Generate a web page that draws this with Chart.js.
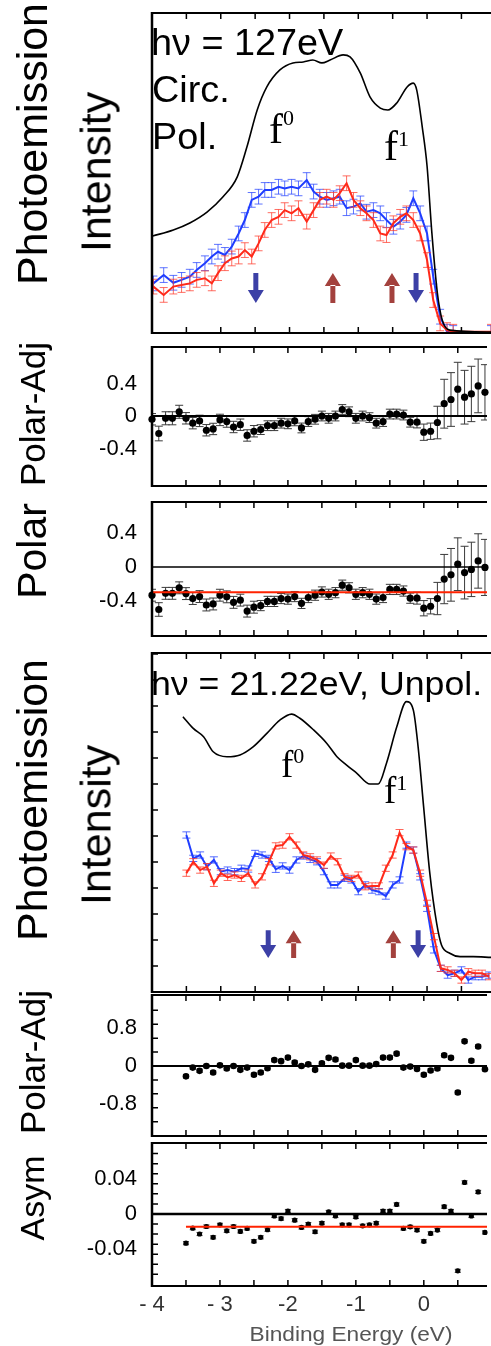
<!DOCTYPE html>
<html>
<head>
<meta charset="utf-8">
<script src="https://cdn.jsdelivr.net/npm/chart.js@4.4.1/dist/chart.umd.min.js"></script>
<style>
body { margin: 0; background: #fff; }
#wrap { position: relative; width: 491px; height: 1346px; overflow: hidden; background: #fff; font-family: 'Liberation Sans', Arial, sans-serif; }
canvas { position: absolute; left: 0; }
.lbl { position: absolute; white-space: nowrap; line-height: 1; color: #000; }
.wide { transform: scaleX(1.05); transform-origin: left top; }
.rot { transform: translate(-50%, -50%) rotate(-90deg); }
.f { font-family: 'Liberation Serif', 'Times New Roman', serif; }
.f span { position: relative; }
</style>
</head>
<body>
<div id="wrap">
  <canvas id="c1"></canvas>
  <canvas id="c2"></canvas>
  <canvas id="c3"></canvas>
  <canvas id="c4"></canvas>
  <canvas id="c5"></canvas>
  <canvas id="c6"></canvas>

  <div class="lbl rot" style="left:32px;top:144px;font-size:43px">Photoemission</div>
  <div class="lbl rot" style="left:96px;top:172px;font-size:43px">Intensity</div>
  <div class="lbl rot" style="left:32px;top:414px;font-size:35px">Polar-Adj</div>
  <div class="lbl rot" style="left:32px;top:551px;font-size:41px">Polar</div>
  <div class="lbl rot" style="left:32px;top:800px;font-size:43px">Photoemission</div>
  <div class="lbl rot" style="left:96px;top:825px;font-size:43px">Intensity</div>
  <div class="lbl rot" style="left:32px;top:1062px;font-size:35px">Polar-Adj</div>
  <div class="lbl rot" style="left:32px;top:1198px;font-size:34px">Asym</div>

  <div class="lbl wide" style="left:151px;top:25px;font-size:36px">hν = 127eV</div>
  <div class="lbl wide" style="left:152px;top:72px;font-size:36px">Circ.</div>
  <div class="lbl wide" style="left:152px;top:119px;font-size:36px">Pol.</div>
  <div class="lbl f" style="left:269px;top:108px;font-size:42px">f<span style="font-size:22px;top:-18px">0</span></div>
  <div class="lbl f" style="left:384px;top:125px;font-size:42px">f<span style="font-size:22px;top:-14px">1</span></div>

  <div class="lbl wide" style="left:151px;top:666px;font-size:34px">hν = 21.22eV, Unpol.</div>
  <div class="lbl f" style="left:281px;top:746px;font-size:37px">f<span style="font-size:22px;top:-14px">0</span></div>
  <div class="lbl f" style="left:384px;top:772px;font-size:37px">f<span style="font-size:22px;top:-13px">1</span></div>

  <div class="lbl" style="left:351px;top:1323px;font-size:21px;color:#555;transform:translateX(-50%) scaleX(1.08)">Binding Energy (eV)</div>
</div>

<script>
// ---- data: panel 1 (hv = 127 eV, circular polarisation) ----
const circBlackX = [-3.99, -3.69, -3.45, -3.20, -2.97, -2.76, -2.62, -2.47, -2.33, -2.14, -1.95, -1.80, -1.66, -1.53, -1.41, -1.22,
  -1.12, -0.97, -0.83, -0.68, -0.57, -0.44, -0.29, -0.20, -0.15, -0.07, 0.00, 0.07, 0.15, 0.22, 0.33, 0.93];
const circBlackY = [30.3, 32.2, 34.4, 37.8, 42.5, 48.8, 58.1, 69.7, 76.9, 82.2, 84.4, 84.7, 85.3, 84.4, 85.3, 86.9,
  86.3, 81.2, 73.8, 70.3, 69.7, 71.9, 76.9, 78.1, 75.9, 64.4, 52.2, 31.3, 12.5, 4.1, 0.9, 0.3];
const circX = [-3.98, -3.83, -3.69, -3.57, -3.45, -3.35, -3.23, -3.13, -3.04, -2.94, -2.84, -2.74, -2.65, -2.55, -2.45,
  -2.36, -2.26, -2.16, -2.07, -1.97, -1.87, -1.75, -1.65, -1.56, -1.46, -1.36, -1.27, -1.17, -1.07, -0.97,
  -0.88, -0.78, -0.68, -0.59, -0.49, -0.39, -0.30, -0.20, -0.10, 0.00, 0.09, 0.19, 0.29, 0.38, 0.93];
const circRed = [14.5, 11.9, 14.5, 15.0, 15.5, 16.6, 17.1, 15.5, 18.7, 21.8, 23.3, 23.9, 25.9, 23.9, 28.0,
  32.2, 35.3, 36.3, 38.4, 37.4, 39.0, 34.8, 38.4, 41.6, 42.6, 41.6, 43.7, 46.8, 41.6, 39.0,
  37.4, 35.3, 31.1, 30.6, 34.3, 36.3, 37.4, 35.3, 31.1, 22.8, 10.3, 3.0, 0.9, 0.4, 0.4];
const circBlue = [15.5, 18.1, 15.7, 16.6, 17.6, 19.7, 21.8, 23.9, 25.4, 24.4, 27.0, 31.1, 35.3, 41.6, 42.6,
  44.7, 44.7, 45.7, 45.2, 45.7, 45.2, 47.8, 44.2, 42.6, 41.6, 42.1, 42.6, 39.0, 39.5, 40.5,
  37.9, 38.4, 37.4, 35.3, 33.2, 34.8, 36.9, 42.1, 37.4, 31.1, 17.6, 5.1, 0.4, 0.0, 0.0];
const circErr = 2.3;
const circDownArrows = [-2.49, -0.16];
const circUpArrows = [-1.37, -0.51];

// ---- data: panels 2 and 3 ----
const gridHi = [-4.0, -3.9, -3.8, -3.7, -3.6, -3.5, -3.4, -3.3, -3.2, -3.1, -3.0, -2.9, -2.8, -2.7, -2.6, -2.5, -2.4,
  -2.3, -2.2, -2.1, -2.0, -1.9, -1.8, -1.7, -1.6, -1.5, -1.4, -1.3, -1.2, -1.1, -1.0, -0.9, -0.8, -0.7, -0.6,
  -0.5, -0.4, -0.3, -0.2, -0.1, 0.0, 0.1, 0.2, 0.3, 0.4, 0.5, 0.6, 0.7, 0.8, 0.9];
const polarAdj = [-0.040, -0.215, -0.028, -0.028, 0.052, -0.028, -0.088, -0.060, -0.175, -0.159,
  -0.048, -0.068, -0.135, -0.107, -0.239, -0.187, -0.167, -0.119, -0.119, -0.088,
  -0.096, -0.060, -0.147, -0.068, -0.040, 0.000, -0.028, 0.000, 0.080, 0.052,
  -0.028, 0.000, -0.020, -0.088, -0.068, 0.024, 0.024, 0.012, -0.076, -0.076,
  -0.199, -0.187, -0.080, 0.151, 0.203, 0.330, 0.231, 0.271, 0.370, 0.291];
const polarAdjErr = [0.07, 0.09, 0.08, 0.08, 0.08, 0.07, 0.07, 0.07, 0.07, 0.07,
  0.07, 0.07, 0.07, 0.07, 0.07, 0.07, 0.06, 0.06, 0.06, 0.06,
  0.06, 0.06, 0.06, 0.06, 0.06, 0.06, 0.06, 0.06, 0.06, 0.06,
  0.06, 0.06, 0.06, 0.06, 0.06, 0.06, 0.06, 0.06, 0.06, 0.07,
  0.10, 0.10, 0.20, 0.30, 0.33, 0.33, 0.33, 0.34, 0.33, 0.34];
const polar = [-0.331, -0.499, -0.309, -0.309, -0.244, -0.312, -0.370, -0.347, -0.446, -0.434,
  -0.331, -0.350, -0.415, -0.389, -0.518, -0.472, -0.453, -0.404, -0.404, -0.370,
  -0.377, -0.347, -0.427, -0.358, -0.331, -0.293, -0.320, -0.301, -0.213, -0.244,
  -0.320, -0.301, -0.320, -0.377, -0.358, -0.263, -0.263, -0.282, -0.366, -0.366,
  -0.484, -0.461, -0.370, -0.141, -0.091, 0.034, -0.065, -0.027, 0.072, -0.004];
const polarErr = [0.07, 0.08, 0.07, 0.07, 0.07, 0.07, 0.07, 0.07, 0.07, 0.07,
  0.07, 0.07, 0.07, 0.07, 0.07, 0.07, 0.06, 0.06, 0.06, 0.06,
  0.06, 0.06, 0.06, 0.06, 0.06, 0.06, 0.06, 0.06, 0.06, 0.06,
  0.06, 0.06, 0.06, 0.06, 0.06, 0.06, 0.06, 0.06, 0.06, 0.07,
  0.09, 0.09, 0.19, 0.29, 0.31, 0.31, 0.31, 0.32, 0.32, 0.33];
const polarMean = -0.297;

// ---- data: panel 4 (hv = 21.22 eV, unpolarised) ----
const unpolBlackX = [-3.55, -3.40, -3.25, -3.11, -2.91, -2.72, -2.53, -2.33, -2.14, -1.97, -1.85, -1.65, -1.46, -1.31,
  -1.17, -1.02, -0.83, -0.71, -0.59, -0.44, -0.30, -0.20, -0.13, -0.05, 0.04, 0.14, 0.21, 0.33, 0.48, 0.67, 0.93];
const unpolBlackY = [105.9, 101.4, 98.2, 92.4, 90.5, 91.2, 94.3, 99.5, 104.6, 106.9, 105.3, 100.8, 95.7, 90.5,
  87.3, 84.1, 80.0, 80.0, 88.0, 102.0, 111.7, 108.5, 94.3, 71.3, 45.7, 26.4, 18.1, 14.9, 13.6, 13.6, 13.3];
const gridLo = [-3.5, -3.4, -3.3, -3.2, -3.1, -3.0, -2.9, -2.8, -2.7, -2.6, -2.5, -2.4, -2.3, -2.2, -2.1,
  -2.0, -1.9, -1.8, -1.7, -1.6, -1.5, -1.4, -1.3, -1.2, -1.1, -1.0, -0.9, -0.8, -0.7, -0.6,
  -0.5, -0.4, -0.3, -0.2, -0.1, 0.0, 0.1, 0.2, 0.3, 0.4, 0.5, 0.6, 0.7, 0.8, 0.9];
const unpolBlue = [60.4, 51.4, 52.7, 48.2, 50.8, 46.3, 46.9, 46.3, 47.6, 47.3, 53.3, 52.7, 51.4, 47.2, 48.5,
  46.9, 50.8, 52.3, 51.0, 50.1, 46.3, 41.2, 41.2, 43.7, 43.1, 38.6, 41.2, 39.2, 38.6, 36.9,
  41.2, 43.1, 56.5, 54.6, 44.3, 32.2, 16.2, 9.1, 6.5, 7.2, 8.5, 4.6, 5.9, 5.9, 6.5];
const unpolRed = [45.7, 50.1, 46.9, 48.2, 41.8, 45.7, 44.1, 45.0, 43.7, 45.7, 41.2, 44.3, 50.1, 56.2, 56.5,
  59.7, 56.5, 52.7, 52.0, 50.8, 48.8, 52.3, 50.1, 44.3, 43.7, 45.0, 40.5, 40.8, 40.8, 47.6,
  52.7, 61.3, 55.9, 54.6, 45.7, 34.1, 21.3, 9.1, 8.5, 7.2, 4.6, 7.8, 7.2, 7.2, 5.9];
const unpolErr = 1.2;
const unpolDownArrows = [-2.31, -0.13];
const unpolUpArrows = [-1.94, -0.49];

// ---- data: panels 5 and 6 ----
const polarAdjUnpol = [-0.216, -0.034, -0.101, 0.000, -0.135, 0.013, -0.054, 0.000, -0.081, -0.034,
  -0.182, -0.135, -0.047, 0.122, 0.101, 0.175, 0.074, 0.000, 0.034, -0.081,
  0.054, 0.169, 0.135, 0.007, 0.007, 0.122, 0.007, 0.007, 0.041, 0.175,
  0.175, 0.257, -0.034, -0.013, -0.061, -0.182, -0.094, -0.054, 0.223, 0.169,
  -0.553, 0.513, 0.108, 0.405, -0.068];
const asym = [-0.0334, -0.0162, -0.0229, -0.0143, -0.0267, -0.0124, -0.0192, -0.0143, -0.0199, -0.0165,
  -0.0312, -0.0267, -0.0180, -0.0023, -0.0053, 0.0034, -0.0071, -0.0154, -0.0116, -0.0203,
  -0.0105, 0.0023, -0.0023, -0.0124, -0.0124, -0.0034, -0.0135, -0.0124, -0.0105, 0.0034,
  0.0034, 0.0109, -0.0165, -0.0147, -0.0184, -0.0312, -0.0222, -0.0184, 0.0083, 0.0034,
  -0.0650, 0.0361, -0.0023, 0.0252, -0.0211];
const asymMean = -0.0146;

// ---- tick labels ----
const energyTicks = [-4, -3, -2, -1, 0];
const energyTickText = ['- 4', '- 3', '-2', '-1', '0'];
const polarTicks = [0.4, 0, -0.4];
const polarTickText = ['0.4', '0', '-0.4'];
const adjTicks = [0.8, 0, -0.8];
const adjTickText = ['0.8', '0', '-0.8'];
const asymTicks = [0.04, 0, -0.04];
const asymTickText = ['0.04', '0', '-0.04'];

const X_MIN = -4, X_MAX = 0.93;
const BLUE = '#1f3dff', RED = '#ff2a1a';

Chart.defaults.font.family = "'Liberation Sans', Arial, sans-serif";

const pts = (xs, ys) => xs.map((x, i) => ({ x, y: ys[i] }));

// error bars, drawn under each dataset
const errorBars = {
    id: 'errorBars',
    beforeDatasetDraw(chart, args) {
        const ds = chart.data.datasets[args.index];
        if (ds.errs === undefined) return;
        const { ctx, chartArea: a } = chart;
        const y = chart.scales.y;
        ctx.save();
        ctx.beginPath();
        ctx.rect(a.left, a.top, a.right - a.left, a.bottom - a.top);
        ctx.clip();
        ctx.strokeStyle = ds.errColor;
        ctx.lineWidth = 1;
        ctx.beginPath();
        args.meta.data.forEach((pt, i) => {
            const e = Array.isArray(ds.errs) ? ds.errs[i] : ds.errs;
            const v = ds.data[i].y;
            const y0 = y.getPixelForValue(v - e), y1 = y.getPixelForValue(v + e);
            const c = ds.cap;
            ctx.moveTo(pt.x, y0); ctx.lineTo(pt.x, y1);
            ctx.moveTo(pt.x - c, y0); ctx.lineTo(pt.x + c, y0);
            ctx.moveTo(pt.x - c, y1); ctx.lineTo(pt.x + c, y1);
        });
        ctx.stroke();
        ctx.restore();
    }
};

// box with inward ticks
const frame = {
    id: 'frame',
    afterDraw(chart, args, o) {
        const { ctx, chartArea: a, scales: { x, y } } = chart;
        ctx.save();
        ctx.strokeStyle = '#000';
        ctx.lineWidth = 1.5;
        ctx.beginPath();
        for (let k = 0; k <= 9; k++) {
            const px = x.getPixelForValue(-4 + k * 0.5);
            ctx.moveTo(px, a.top); ctx.lineTo(px, a.top + 6);
            ctx.moveTo(px, a.bottom); ctx.lineTo(px, a.bottom - 6);
        }
        if (o.yStep) {
            for (let k = -o.yCount; k <= o.yCount; k++) {
                const v = k * o.yStep;
                if (v <= y.min || v >= y.max) continue;
                const py = y.getPixelForValue(v);
                ctx.moveTo(a.left, py); ctx.lineTo(a.left + 6, py);
            }
        }
        ctx.stroke();
        ctx.lineWidth = 2;
        ctx.beginPath();
        ctx.moveTo(a.left, a.top); ctx.lineTo(a.right, a.top);
        ctx.moveTo(a.left, a.bottom); ctx.lineTo(a.right, a.bottom);
        ctx.stroke();
        ctx.lineWidth = 2.5;
        ctx.beginPath();
        ctx.moveTo(a.left, a.top - 1); ctx.lineTo(a.left, a.bottom + 1);
        ctx.stroke();
        ctx.restore();
    }
};

// spin arrows
const arrows = {
    id: 'arrows',
    afterDatasetsDraw(chart, args, o) {
        if (!o.list) return;
        const { ctx, scales: { x, y } } = chart;
        ctx.save();
        o.list.forEach(a => {
            ctx.fillStyle = a.color;
            a.xs.forEach(v => {
                const px = x.getPixelForValue(v);
                const top = y.getPixelForValue(a.hi), bot = y.getPixelForValue(a.lo);
                ctx.beginPath();
                if (a.dir === 'down') {
                    ctx.rect(px - 2.5, top, 5, bot - top - 12);
                    ctx.moveTo(px - 8, bot - 13); ctx.lineTo(px + 8, bot - 13); ctx.lineTo(px, bot);
                } else {
                    ctx.rect(px - 2.5, top + 12, 5, bot - top - 12);
                    ctx.moveTo(px - 8, top + 13); ctx.lineTo(px + 8, top + 13); ctx.lineTo(px, top);
                }
                ctx.fill();
            });
        });
        ctx.restore();
    }
};

function panel(id, area, yRange, datasets, cfg) {
    const cv = document.getElementById(id);
    const below = cfg.xAxis ? 60 : 2;
    cv.width = 491;
    cv.height = area[1] - area[0] + 2 + below;
    cv.style.top = (area[0] - 2) + 'px';
    cv.style.width = '491px';
    cv.style.height = cv.height + 'px';
    const yt = cfg.yTicks, xt = cfg.xAxis;
    return new Chart(cv, {
        type: 'scatter',
        data: { datasets },
        plugins: [errorBars, frame, arrows],
        options: {
            responsive: false, animation: false, devicePixelRatio: 1,
            layout: { padding: { top: 2, bottom: xt ? 0 : 2, left: 0, right: 0 } },
            plugins: {
                legend: { display: false }, tooltip: { enabled: false },
                frame: { yStep: cfg.yStep, yCount: cfg.yCount },
                arrows: { list: cfg.arrows }
            },
            scales: {
                x: {
                    type: 'linear', min: X_MIN, max: X_MAX, display: !!xt,
                    grid: { display: false, drawTicks: false }, border: { display: false },
                    afterFit(s) { if (xt) s.height = 60; s.paddingLeft = 0; s.paddingRight = 0; },
                    afterBuildTicks(s) { if (xt) s.ticks = xt.vals.map(v => ({ value: v })); },
                    ticks: { padding: 6, color: '#333', font: { size: 22 }, callback: (v, i) => xt ? xt.text[i] : '' }
                },
                y: {
                    type: 'linear', min: yRange[0], max: yRange[1],
                    grid: { display: false, drawTicks: false }, border: { display: false },
                    afterFit(s) { s.width = 152; s.paddingTop = 0; s.paddingBottom = 0; },
                    afterBuildTicks(s) { s.ticks = yt ? yt.vals.map(v => ({ value: v })) : []; },
                    ticks: { display: !!yt, padding: 15, color: '#000', font: { size: 22 }, callback: (v, i) => yt ? yt.text[i] : '' }
                }
            }
        }
    });
}

const hline = (y, x0, color, w) => ({
    type: 'line', data: [{ x: x0, y }, { x: X_MAX, y }], borderColor: color, borderWidth: w, pointRadius: 0
});
const curve = (xs, ys, color, w, extra) => Object.assign({
    type: 'line', data: pts(xs, ys), borderColor: color, borderWidth: w, pointRadius: 0, tension: 0
}, extra || {});
const dots = (xs, ys, r, errs, cap) => ({
    type: 'scatter', data: pts(xs, ys), pointRadius: r, pointBackgroundColor: '#000', pointBorderWidth: 0,
    errs, errColor: '#3a3a3a', cap, clip: false
});

panel('c1', [13, 333], [0, 100], [
    curve(circBlackX, circBlackY, '#000', 1.6, { cubicInterpolationMode: 'monotone' }),
    curve(circX, circRed, RED, 2, { errs: circErr, errColor: 'rgba(255,60,45,0.75)', cap: 4 }),
    curve(circX, circBlue, BLUE, 2, { errs: circErr, errColor: 'rgba(40,70,255,0.75)', cap: 4 })
], {
    arrows: [
        { xs: circDownArrows, dir: 'down', color: '#3c40a6', hi: 18.75, lo: 9.4 },
        { xs: circUpArrows, dir: 'up', color: '#a3413d', hi: 18.75, lo: 9.4 }
    ]
});

panel('c2', [345, 488], [-0.86, 0.848], [
    hline(0, X_MIN, '#000', 2),
    dots(gridHi, polarAdj, 3.6, polarAdjErr, 4)
], { yTicks: { vals: polarTicks, text: polarTickText } });

panel('c3', [500, 638], [-0.811, 0.766], [
    hline(0, X_MIN, '#000', 1.5),
    hline(polarMean, X_MIN, '#ff2200', 2),
    dots(gridHi, polar, 3.6, polarErr, 4)
], { yTicks: { vals: polarTicks, text: polarTickText } });

panel('c4', [653, 992], [0, 130.4], [
    curve(unpolBlackX, unpolBlackY, '#000', 1.6, { cubicInterpolationMode: 'monotone' }),
    curve(gridLo, unpolRed, RED, 2, { errs: unpolErr, errColor: 'rgba(255,60,45,0.8)', cap: 4 }),
    curve(gridLo, unpolBlue, BLUE, 2, { errs: unpolErr, errColor: 'rgba(40,70,255,0.8)', cap: 4 })
], {
    yStep: 10, yCount: 13,
    arrows: [
        { xs: unpolDownArrows, dir: 'down', color: '#3c40a6', hi: 23.8, lo: 13.1 },
        { xs: unpolUpArrows, dir: 'up', color: '#a3413d', hi: 23.8, lo: 13.1 }
    ]
});

panel('c5', [993, 1138], [-1.458, 1.478], [
    hline(0, X_MIN, '#000', 2),
    dots(gridLo, polarAdjUnpol, 3.3, 0.035, 3)
], { yTicks: { vals: adjTicks, text: adjTickText }, yStep: 0.29, yCount: 4 });

panel('c6', [1141, 1286], [-0.0823, 0.0811], [
    hline(0, X_MIN, '#000', 2.5),
    hline(asymMean, -3.5, '#ff2200', 2),
    dots(gridLo, asym, 2.6, 0.0018, 3)
], {
    yTicks: { vals: asymTicks, text: asymTickText }, yStep: 0.0115, yCount: 6,
    xAxis: { vals: energyTicks, text: energyTickText }
});
</script>
</body>
</html>
